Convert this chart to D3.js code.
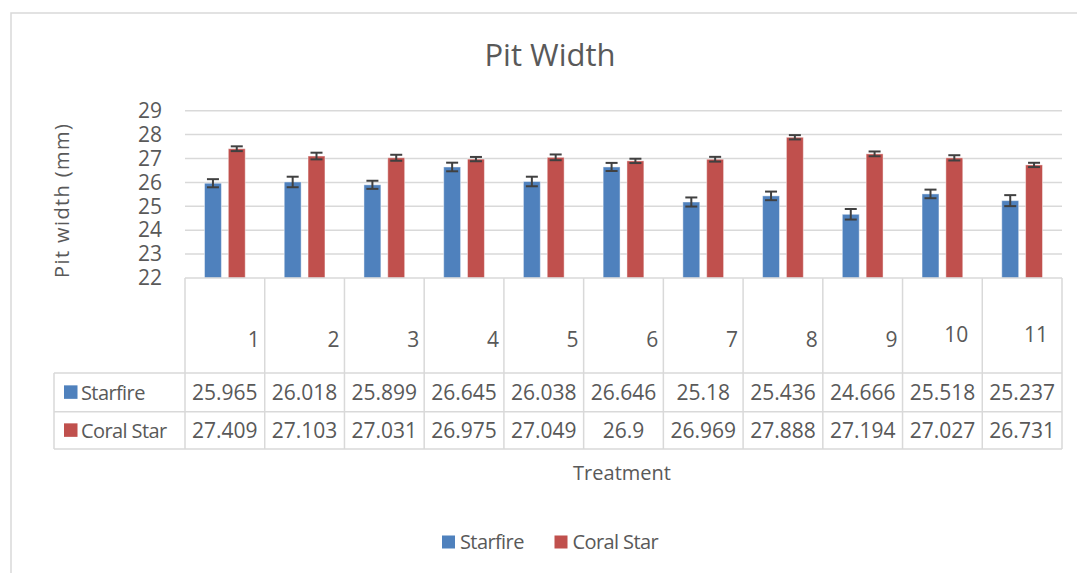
<!DOCTYPE html>
<html>
<head>
<meta charset="utf-8">
<script src="https://cdn.jsdelivr.net/npm/d3@7"></script>
<style>
  html, body { margin: 0; padding: 0; background: #fff; }
  svg { display: block; font-family: "Open Sans", "Noto Sans", sans-serif; }
  text { fill: #595959; }
</style>
</head>
<body>
<svg id="chart" width="1077" height="573"></svg>
<script>
// ---- data ----
const categories = ["1", "2", "3", "4", "5", "6", "7", "8", "9", "10", "11"];
const seriesNames = ["Starfire", "Coral Star"];
const starfire = [25.965, 26.018, 25.899, 26.645, 26.038, 26.646, 25.18, 25.436, 24.666, 25.518, 25.237];
const coralStar = [27.409, 27.103, 27.031, 26.975, 27.049, 26.9, 26.969, 27.888, 27.194, 27.027, 26.731];
const starfireErr = [0.17, 0.22, 0.17, 0.18, 0.20, 0.17, 0.19, 0.18, 0.22, 0.18, 0.23];
const coralStarErr = [0.10, 0.14, 0.125, 0.09, 0.12, 0.09, 0.10, 0.09, 0.10, 0.11, 0.09];
const yTicks = [22, 23, 24, 25, 26, 27, 28, 29];
const title = "Pit Width";
const yTitle = "Pit width (mm)";
const xTitle = "Treatment";

const colors = { "Starfire": "#4F81BD", "Coral Star": "#C0504D" };
const values = { "Starfire": starfire, "Coral Star": coralStar };
const errors = { "Starfire": starfireErr, "Coral Star": coralStarErr };

// ---- layout ----
const svg = d3.select("#chart");
const plot = { left: 185, right: 1062, top: 110.7, bottom: 278 };
const tableLeft = 54;
const rowTops = [278, 373, 411.7, 449];

const x = d3.scaleBand().domain(categories).range([plot.left, plot.right]).padding(0);
const xInner = d3.scaleBand().domain(seriesNames)
  .range([19.5, x.bandwidth() - 19.5]).paddingInner(0.29);
const y = d3.scaleLinear().domain([22, 29]).range([plot.bottom, plot.top]);

const gridColor = "#d9d9d9";

// outer chart frame (extends beyond the window on right/bottom)
svg.append("rect")
  .attr("x", 11).attr("y", 13).attr("width", 1085).attr("height", 600)
  .attr("fill", "none").attr("stroke", gridColor).attr("stroke-width", 1.5);

// title
svg.append("text").attr("x", 550).attr("y", 66)
  .attr("text-anchor", "middle").attr("font-size", 31).text(title);

// gridlines
svg.append("g").selectAll("line").data(yTicks.filter(d => d !== 22)).join("line")
  .attr("x1", plot.left).attr("x2", plot.right)
  .attr("y1", d => y(d)).attr("y2", d => y(d))
  .attr("stroke", gridColor).attr("stroke-width", 1.5);

// y axis labels via d3 axis
const yAxis = svg.append("g").attr("transform", `translate(${plot.left},0)`)
  .call(d3.axisLeft(y).tickValues(yTicks).tickFormat(d3.format("d")).tickSize(0).tickPadding(23));
yAxis.select(".domain").remove();
yAxis.selectAll("text").attr("font-size", 21).attr("fill", "#595959")
  .attr("font-family", "'Open Sans', sans-serif");

// y title
svg.append("text")
  .attr("transform", `translate(69,${(plot.top + plot.bottom) / 2 + 6}) rotate(-90)`)
  .attr("text-anchor", "middle").attr("font-size", 20).attr("letter-spacing", 1.4)
  .text(yTitle);

// bars
const groups = svg.append("g").selectAll("g").data(categories).join("g")
  .attr("transform", d => `translate(${x(d)},0)`);

seriesNames.forEach(s => {
  groups.append("rect")
    .attr("x", xInner(s)).attr("width", xInner.bandwidth())
    .attr("y", (d, i) => y(values[s][i]))
    .attr("height", (d, i) => plot.bottom - y(values[s][i]))
    .attr("fill", colors[s])
    .attr("stroke", "#ffffff").attr("stroke-opacity", 0.45).attr("stroke-width", 1);
});

// error bars
seriesNames.forEach(s => {
  const cx = xInner(s) + xInner.bandwidth() / 2;
  const eb = groups.append("g").attr("stroke", "#404040").attr("stroke-width", 2);
  eb.append("line")
    .attr("x1", cx).attr("x2", cx)
    .attr("y1", (d, i) => y(values[s][i] + errors[s][i]))
    .attr("y2", (d, i) => y(values[s][i] - errors[s][i]));
  [1, -1].forEach(sign => {
    eb.append("line")
      .attr("x1", cx - 6).attr("x2", cx + 6)
      .attr("y1", (d, i) => y(values[s][i] + sign * errors[s][i]))
      .attr("y2", (d, i) => y(values[s][i] + sign * errors[s][i]));
  });
});

// ---- data table ----
const tbl = svg.append("g").attr("stroke", gridColor).attr("stroke-width", 1.5).attr("fill", "none");
tbl.append("line").attr("x1", plot.left).attr("x2", plot.right)
  .attr("y1", rowTops[0]).attr("y2", rowTops[0]);
[1, 2, 3].forEach(r => {
  tbl.append("line").attr("x1", tableLeft).attr("x2", plot.right)
    .attr("y1", rowTops[r]).attr("y2", rowTops[r]);
});
const bounds = categories.map(c => x(c)).concat([plot.right]);
tbl.selectAll("line.v").data(bounds).join("line").attr("class", "v")
  .attr("x1", d => d).attr("x2", d => d)
  .attr("y1", rowTops[0]).attr("y2", rowTops[3]);
tbl.append("line").attr("x1", tableLeft).attr("x2", tableLeft)
  .attr("y1", rowTops[1]).attr("y2", rowTops[3]);

// category labels
svg.append("g").selectAll("text").data(categories).join("text")
  .attr("x", d => x(d) + x.bandwidth() - (d.length > 1 ? 14 : 5))
  .attr("y", d => d.length > 1 ? 342 : 347)
  .attr("text-anchor", "end").attr("font-size", 21).text(d => d);

// rows
seriesNames.forEach((s, r) => {
  const cy = (rowTops[r + 1] + rowTops[r + 2]) / 2;
  svg.append("rect").attr("x", 64).attr("y", cy - 7).attr("width", 13.5).attr("height", 13.5)
    .attr("fill", colors[s]);
  svg.append("text").attr("x", 81).attr("y", cy + 7.5)
    .attr("font-size", 20).attr("letter-spacing", -0.6).text(s);
  svg.append("g").selectAll("text").data(values[s]).join("text")
    .attr("x", (d, i) => x(categories[i]) + x.bandwidth() / 2)
    .attr("y", cy + 7.5)
    .attr("text-anchor", "middle").attr("font-size", 21)
    .text(d => String(d));
});

// x title
svg.append("text").attr("x", 622).attr("y", 480)
  .attr("text-anchor", "middle").attr("font-size", 20).text(xTitle);

// legend
const legendItems = [{ name: "Starfire", x: 442 }, { name: "Coral Star", x: 554.5 }];
legendItems.forEach(it => {
  svg.append("rect").attr("x", it.x).attr("y", 535.5).attr("width", 13).attr("height", 13)
    .attr("fill", colors[it.name]);
  svg.append("text").attr("x", it.x + 18).attr("y", 549)
    .attr("font-size", 20).attr("letter-spacing", -0.6).text(it.name);
});
</script>
</body>
</html>
